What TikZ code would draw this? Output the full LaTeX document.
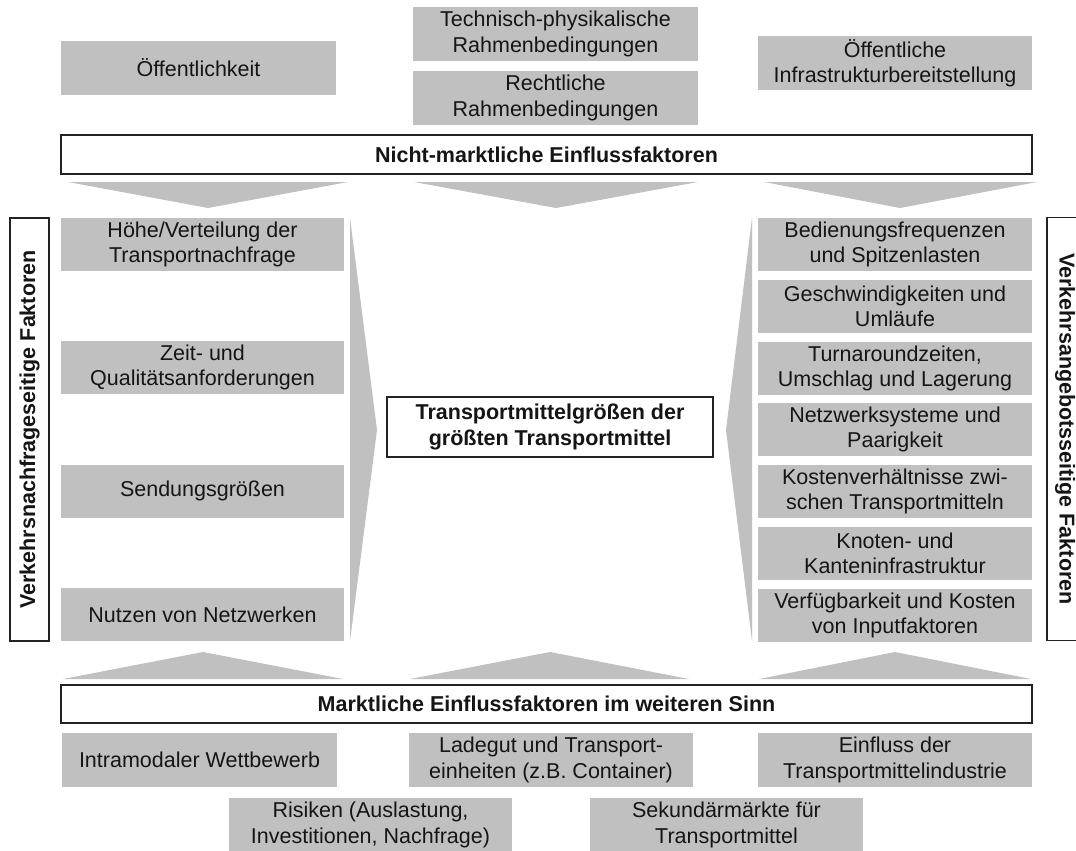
\documentclass[tikz,border=0pt]{standalone}
\usepackage{fontspec}
\setmainfont{Liberation Sans}
\definecolor{boxgray}{HTML}{C0C0C0}
\definecolor{txt}{HTML}{151515}
\definecolor{frame}{HTML}{222222}
\begin{document}
\begin{tikzpicture}[x=1pt,y=-1pt,
  every node/.style={inner sep=0pt, outer sep=0pt, text=txt, font=\fontsize{21.5}{25.5}\selectfont, align=center},
  gbox/.style={fill=boxgray, minimum height=54pt},
  bar/.style={fill=white, draw=frame, line width=1.2pt, minimum width=971pt, font=\fontsize{21.5}{25.5}\selectfont\bfseries},
  vbox/.style={fill=white, draw=frame, line width=1.2pt, minimum width=423pt, minimum height=39pt, font=\fontsize{21.5}{25.5}\selectfont\bfseries},
  arrowshape/.style={fill=boxgray}
]
\useasboundingbox[fill=white] (0,0) rectangle (1076,851);

% top group
\node[gbox, minimum width=275pt] (oeff) at (198.5,68) {Öffentlichkeit};
\node[gbox, minimum width=285pt] (tech) at (555.5,34) {Technisch-physikalische\\Rahmenbedingungen};
\node[gbox, minimum width=285pt] (recht) at (555.5,98) {Rechtliche\\Rahmenbedingungen};
\node[gbox, minimum width=274pt] (infra) at (895,63) {Öffentliche\\Infrastrukturbereitstellung};

\node[bar, minimum height=39pt] (nicht) at (546.5,154.5) {Nicht-marktliche Einflussfaktoren};

% down arrows
\fill[arrowshape] (68,182) -- (348,182) -- (208,208) -- cycle;
\fill[arrowshape] (414,182) -- (698,182) -- (556,208) -- cycle;
\fill[arrowshape] (764,182) -- (1037,182) -- (900,208) -- cycle;

% left column
\node[gbox, minimum width=283pt, minimum height=53pt] (hoehe) at (202.5,244.5) {Höhe/Verteilung der\\Transportnachfrage};
\node[gbox, minimum width=283pt, minimum height=53pt] (zeit) at (202.5,367.5) {Zeit- und\\Qualitätsanforderungen};
\node[gbox, minimum width=283pt, minimum height=53pt] (send) at (202.5,491) {Sendungsgrößen};
\node[gbox, minimum width=283pt, minimum height=53pt] (nutzen) at (202.5,614.5) {Nutzen von Netzwerken};

% right column
\node[gbox, minimum width=274pt, minimum height=53pt] (bed) at (895,244.5) {Bedienungsfrequenzen\\und Spitzenlasten};
\node[gbox, minimum width=274pt, minimum height=53pt] (geschw) at (895,306.5) {Geschwindigkeiten und\\Umläufe};
\node[gbox, minimum width=274pt, minimum height=53pt] (turn) at (895,368.5) {Turnaroundzeiten,\\Umschlag und Lagerung};
\node[gbox, minimum width=274pt, minimum height=53pt] (netz) at (895,429.5) {Netzwerksysteme und\\Paarigkeit};
\node[gbox, minimum width=274pt, minimum height=53pt] (kosten) at (895,491.5) {Kostenverhältnisse zwi-\\schen Transportmitteln};
\node[gbox, minimum width=274pt, minimum height=53pt] (knoten) at (895,553.5) {Knoten- und\\Kanteninfrastruktur};
\node[gbox, minimum width=274pt, minimum height=53pt] (verf) at (895,615.5) {Verfügbarkeit und Kosten\\von Inputfaktoren};

% side arrows
\fill[arrowshape] (350,218) -- (377,430) -- (350,641) -- cycle;
\fill[arrowshape] (752,218) -- (726,430) -- (752,641) -- cycle;

% side frames
\node[vbox, rotate=90] (nachfrage) at (29.5,429.5) {Verkehrsnachfrageseitige Faktoren};
\node[vbox, rotate=-90, minimum height=36pt] (angebot) at (1065,429) {Verkehrsangebotsseitige Faktoren};

% center
\node[fill=white, draw=frame, line width=1.2pt, minimum width=326pt, minimum height=60pt, font=\fontsize{21.5}{25.5}\selectfont\bfseries] (center) at (550,427) {Transportmittelgrößen der\\größten Transportmittel};

% up arrows
\fill[arrowshape] (63,679) -- (343,679) -- (203,652) -- cycle;
\fill[arrowshape] (410,679) -- (689,679) -- (550,652) -- cycle;
\fill[arrowshape] (759,679) -- (1031,679) -- (895,652) -- cycle;

\node[bar, minimum height=38pt] (markt) at (546.5,704) {Marktliche Einflussfaktoren im weiteren Sinn};

% bottom group
\node[gbox, minimum width=275pt] (intra) at (199.5,760) {Intramodaler Wettbewerb};
\node[gbox, minimum width=284pt] (lade) at (551,760) {Ladegut und Transport-\\einheiten (z.B. Container)};
\node[gbox, minimum width=274pt] (einfl) at (895,760) {Einfluss der\\Transportmittelindustrie};
\node[gbox, minimum width=283pt] (risk) at (370.5,825) {Risiken (Auslastung,\\Investitionen, Nachfrage)};
\node[gbox, minimum width=273pt] (sek) at (726.5,825) {Sekundärmärkte für\\Transportmittel};
\end{tikzpicture}
\end{document}
